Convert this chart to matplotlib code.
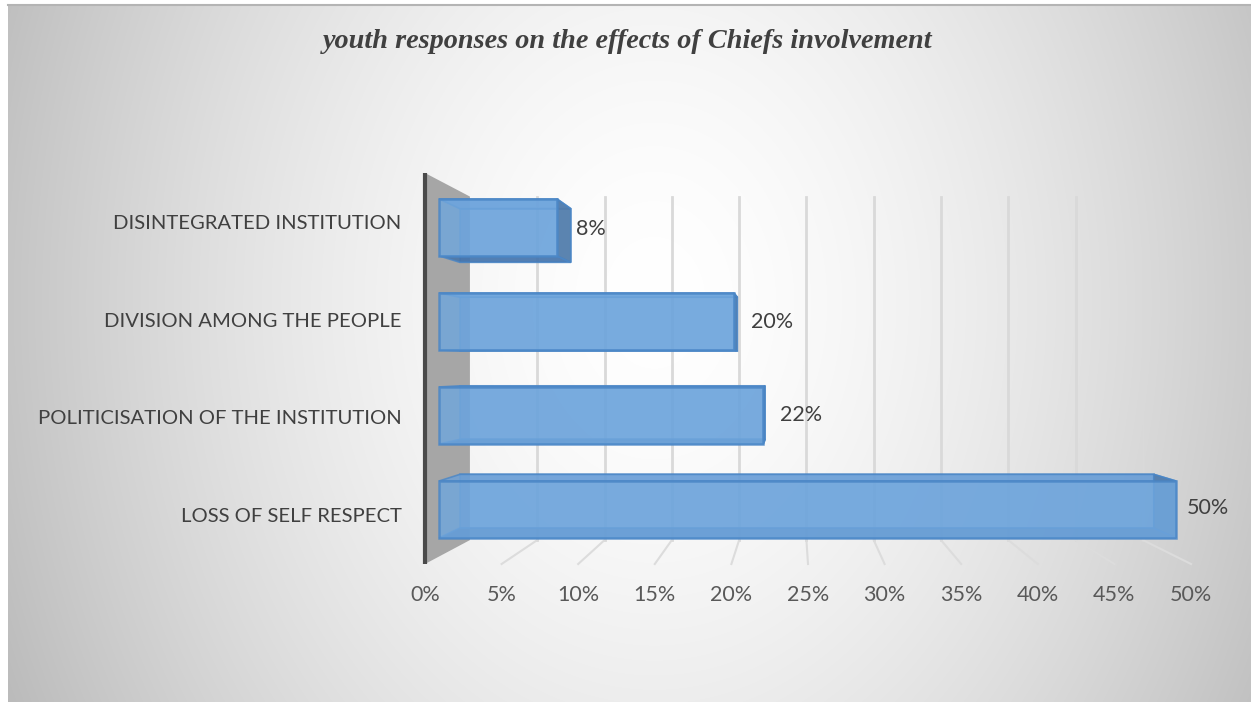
import numpy as np
import matplotlib
matplotlib.use("Agg")
import matplotlib.pyplot as plt
from matplotlib.patches import Polygon

# ---- data -------------------------------------------------------------
categories = [
    "LOSS OF SELF RESPECT",
    "POLITICISATION OF THE INSTITUTION",
    "DIVISION AMONG THE PEOPLE",
    "DISINTEGRATED INSTITUTION",
]
values = [50, 22, 20, 8]
tick_values = [0, 5, 10, 15, 20, 25, 30, 35, 40, 45, 50]
tick_labels = [f"{t}%" for t in tick_values]
title = "youth responses on the effects of Chiefs involvement"

# ---- figure & gradient background ---------------------------------------
W, H = 1251, 702
fig = plt.figure(figsize=(W / 100, H / 100), dpi=100)
bg = fig.add_axes([0, 0, 1, 1])
bg.set_xlim(0, W)
bg.set_ylim(H, 0)
bg.axis("off")

yy, xx = np.mgrid[0:H, 0:W]
d = np.sqrt(((xx - 650) / 700.0) ** 2 + ((yy - 300) / 900.0) ** 2)
shade = np.clip(255 - 65 * np.clip(d, 0, 1.2) ** 1.6, 0, 255) / 255.0
img = np.dstack([shade, shade, shade])
bg.imshow(img, extent=(8, W, H, 4), zorder=0, interpolation="bilinear")
bg.plot([8, W], [4.5, 4.5], color="#b4b4b4", lw=1.5, zorder=1)

# ---- main axes: front plane of the 3-D box ------------------------------
x_left, x_right = 425, 1191
y_top, y_bot = 173, 564
ax = fig.add_axes([x_left / W, 1 - y_bot / H, (x_right - x_left) / W, (y_bot - y_top) / H])
ax.set_xlim(0, 50)
ax.set_ylim(-0.5, len(categories) - 0.5)
ax.patch.set_alpha(0)
for s in ax.spines.values():
    s.set_visible(False)

# one-point perspective (vanishing point in data units)
VX, VY = 24.15, 1.515
R_BACK = 0.8786      # depth ratio of back wall
R_BAR_F = 0.962      # bar front face
R_BAR_B = 0.906      # bar back face
HALF = 0.303         # half bar thickness (category units)


def proj(v, c, r):
    return (VX + (v - VX) * r, VY + (c - VY) * r)


def poly(pts, **kw):
    p = Polygon(pts, closed=True, clip_on=False, **kw)
    ax.add_patch(p)
    return p


c_lo, c_hi = -0.5, len(categories) - 0.5

# back-wall gridlines
for t in tick_values[1:]:
    a = proj(t, c_lo, R_BACK)
    b = proj(t, c_hi, R_BACK)
    ax.plot([a[0], b[0]], [a[1], b[1]], color="#d9d9d9", lw=2, clip_on=False, zorder=1)

# floor gridlines
for t in tick_values[1:]:
    a = proj(t, c_lo, 1.0)
    b = proj(t, c_lo, R_BACK)
    ax.plot([a[0], b[0]], [a[1], b[1]], color="#dcdcdc", lw=1.5, clip_on=False, zorder=1)

# side wall at 0 %
wall = [proj(0, c_hi, 1.0), proj(0, c_hi, R_BACK), proj(0, c_lo, R_BACK), proj(0, c_lo, 1.0)]
poly(wall, facecolor="#a6a6a6", edgecolor="none", zorder=2)
ax.plot([0, 0], [c_lo, c_hi], color="#4a4a4a", lw=3, clip_on=False, zorder=3,
        solid_capstyle="butt")

# bars as perspective boxes
edge = "#4a86c6"
for i, v in enumerate(values):
    lo, hi = i - HALF, i + HALF

    back = [proj(0, lo, R_BAR_B), proj(v, lo, R_BAR_B), proj(v, hi, R_BAR_B), proj(0, hi, R_BAR_B)]
    front = [proj(0, lo, R_BAR_F), proj(v, lo, R_BAR_F), proj(v, hi, R_BAR_F), proj(0, hi, R_BAR_F)]
    top = [proj(0, hi, R_BAR_F), proj(v, hi, R_BAR_F), proj(v, hi, R_BAR_B), proj(0, hi, R_BAR_B)]
    bottom = [proj(0, lo, R_BAR_F), proj(v, lo, R_BAR_F), proj(v, lo, R_BAR_B), proj(0, lo, R_BAR_B)]
    right = [proj(v, lo, R_BAR_F), proj(v, hi, R_BAR_F), proj(v, hi, R_BAR_B), proj(v, lo, R_BAR_B)]

    poly(back, facecolor="#5b93d0", edgecolor=edge, lw=1.2, alpha=0.55, zorder=4)
    poly(bottom, facecolor="#3f6fa8", edgecolor=edge, lw=1.2, alpha=0.8, zorder=5)
    poly(top, facecolor="#6a9fd8", edgecolor=edge, lw=1.2, alpha=0.8, zorder=5)
    poly(right, facecolor="#4f79a8", edgecolor=edge, lw=1.2, alpha=0.85, zorder=5)
    poly(front, facecolor="#6fa6dd", edgecolor=edge, lw=1.8, alpha=0.82, zorder=6)

    # value label just right of the box end
    x_lab, y_lab = proj(v, i, 0.95)
    ax.annotate(f"{v}%", (x_lab, y_lab), xytext=(16, 0), textcoords="offset pixels",
                ha="left", va="center", fontsize=15.5, family="Lato", color="#404040",
                annotation_clip=False, zorder=7)

# axis ticks and labels
ax.set_xticks(tick_values)
ax.set_xticklabels(tick_labels, family="Lato", fontsize=15.5, color="#595959")
ax.set_yticks(range(len(categories)))
ax.set_yticklabels(categories, family="Lato", fontsize=14.6, color="#404040")
ax.tick_params(axis="x", length=0, pad=15)
ax.tick_params(axis="y", length=0, pad=17)

fig.text(0.502, 1 - 42 / H, title, ha="center", va="center", fontsize=20.3,
         family="Liberation Serif", style="italic", weight="bold", color="#404040")

fig.savefig("out.png", dpi=100)
